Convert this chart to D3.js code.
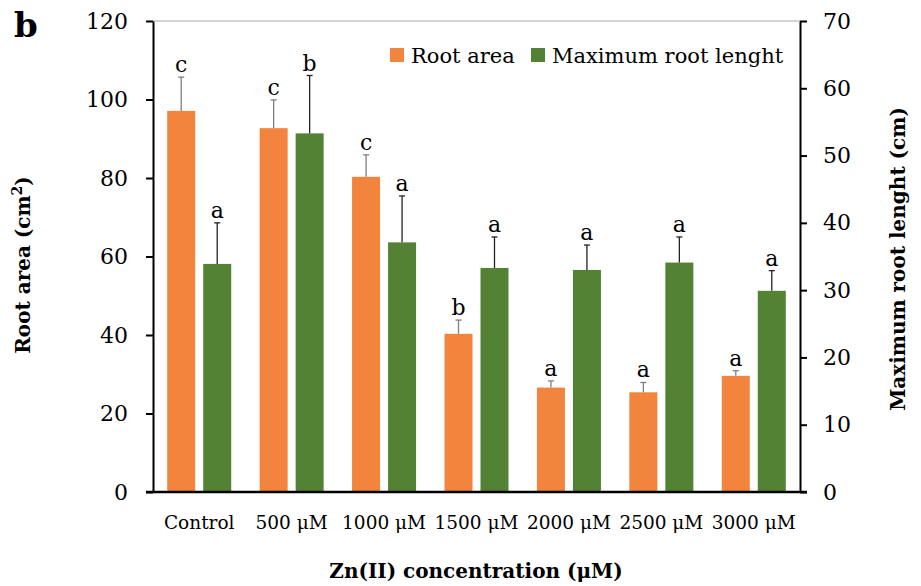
<!DOCTYPE html>
<html>
<head>
<meta charset="utf-8">
<script src="https://cdn.jsdelivr.net/npm/d3@7"></script>
<style>
  body { margin: 0; background: #fff; }
  svg text { font-family: "DejaVu Serif", serif; fill: #000; }
</style>
</head>
<body>
<svg id="chart" width="921" height="586"></svg>
<script>
// zn(II) treatments
var categories = ["Control", "500 μM", "1000 μM", "1500 μM", "2000 μM", "2500 μM", "3000 μM"];

// root area (cm2), left axis
var rootArea = [97.1, 92.7, 80.3, 40.3, 26.6, 25.4, 29.6];
var rootAreaErr = [8.6, 7.2, 5.6, 3.5, 1.7, 2.5, 1.3];
var rootAreaLetters = ["c", "c", "c", "b", "a", "a", "a"];

// max root lenght (cm), right axis
var rootLength = [33.9, 53.3, 37.1, 33.3, 33.0, 34.1, 29.9];
var rootLengthErr = [6.1, 8.6, 6.9, 4.6, 3.7, 3.8, 3.0];
var rootLengthLetters = ["a", "b", "a", "a", "a", "a", "a"];

var leftTicks = [0, 20, 40, 60, 80, 100, 120];
var rightTicks = [0, 10, 20, 30, 40, 50, 60, 70];

var seriesNames = ["Root area", "Maximum root lenght"];
var colors = ["#f2843d", "#548235"];
var errColors = ["#7f7f7f", "#222"];

// plot box (note: "top" is taken by window.top)
var plotL = 153, plotR = 800, plotT = 21, plotB = 492;

var svg = d3.select("#chart");

var x0 = d3.scaleBand()
    .domain(categories)
    .range([plotL, plotR])
    .padding(0);

var x1 = d3.scaleBand()
    .domain([0, 1])
    .range([x0.bandwidth() / 2 - 32, x0.bandwidth() / 2 + 32])
    .paddingInner(0.222);

var yL = d3.scaleLinear().domain([0, 120]).range([plotB, plotT]);
var yR = d3.scaleLinear().domain([0, 70]).range([plotB, plotT]);

// top border of plot area
svg.append("line")
    .attr("x1", plotL).attr("x2", plotR)
    .attr("y1", plotT).attr("y2", plotT)
    .attr("stroke", "#a6a6a6").attr("stroke-width", 1);

// rows for each series
var rows = categories.map(function (c, i) {
    return [
        { cat: c, s: 0, v: rootArea[i], e: rootAreaErr[i], t: rootAreaLetters[i], y: yL },
        { cat: c, s: 1, v: rootLength[i], e: rootLengthErr[i], t: rootLengthLetters[i], y: yR }
    ];
});

var group = svg.selectAll("g.grp")
    .data(rows)
    .enter().append("g")
    .attr("class", "grp")
    .attr("transform", function (d) { return "translate(" + x0(d[0].cat) + ",0)"; });

var bar = group.selectAll("g.bar")
    .data(function (d) { return d; })
    .enter().append("g")
    .attr("class", "bar");

bar.append("rect")
    .attr("x", function (d) { return x1(d.s); })
    .attr("width", x1.bandwidth())
    .attr("y", function (d) { return d.y(d.v); })
    .attr("height", function (d) { return plotB - d.y(d.v); })
    .attr("fill", function (d) { return colors[d.s]; });

// error bars (upper only)
bar.append("line")
    .attr("x1", function (d) { return x1(d.s) + x1.bandwidth() / 2; })
    .attr("x2", function (d) { return x1(d.s) + x1.bandwidth() / 2; })
    .attr("y1", function (d) { return d.y(d.v); })
    .attr("y2", function (d) { return d.y(d.v + d.e); })
    .attr("stroke", function (d) { return errColors[d.s]; })
    .attr("stroke-width", 1.3);

bar.append("line")
    .attr("x1", function (d) { return x1(d.s) + x1.bandwidth() / 2 - 3; })
    .attr("x2", function (d) { return x1(d.s) + x1.bandwidth() / 2 + 3; })
    .attr("y1", function (d) { return d.y(d.v + d.e); })
    .attr("y2", function (d) { return d.y(d.v + d.e); })
    .attr("stroke", function (d) { return errColors[d.s]; })
    .attr("stroke-width", 1.3);

bar.append("text")
    .attr("x", function (d) { return x1(d.s) + x1.bandwidth() / 2; })
    .attr("y", function (d) { return d.y(d.v + d.e) - 5; })
    .attr("text-anchor", "middle")
    .style("font-size", "22px")
    .text(function (d) { return d.t; });

// axes
var axL = svg.append("g")
    .attr("transform", "translate(" + plotL + ",0)")
    .call(d3.axisLeft(yL).tickValues(leftTicks).tickSize(7).tickSizeOuter(0).tickPadding(18));

var axR = svg.append("g")
    .attr("transform", "translate(" + plotR + ",0)")
    .call(d3.axisRight(yR).tickValues(rightTicks).tickSize(7).tickSizeOuter(0).tickPadding(16));

[axL, axR].forEach(function (ax) {
    ax.selectAll("path, line").attr("stroke", "#000").attr("stroke-width", 2);
    ax.selectAll("text").style("font-size", "22px").attr("font-family", null);
});

// category axis: just the baseline plus labels
svg.append("line")
    .attr("x1", plotL - 7).attr("x2", plotR + 7)
    .attr("y1", plotB).attr("y2", plotB)
    .attr("stroke", "#000").attr("stroke-width", 2.5);

svg.selectAll("text.cat")
    .data(categories)
    .enter().append("text")
    .attr("class", "cat")
    .attr("x", function (d) { return x0(d) + x0.bandwidth() / 2; })
    .attr("y", 529)
    .attr("text-anchor", "middle")
    .style("font-size", "18.5px")
    .text(function (d) { return d; });

// titles
svg.append("text")
    .attr("x", 476).attr("y", 578)
    .attr("text-anchor", "middle")
    .style("font-size", "20px").style("font-weight", "bold")
    .text("Zn(II) concentration (μM)");

var lt = svg.append("text")
    .attr("transform", "translate(30,265) rotate(-90)")
    .attr("text-anchor", "middle")
    .style("font-size", "20px").style("font-weight", "bold");
lt.append("tspan").text("Root area (cm");
lt.append("tspan").attr("dy", -8).style("font-size", "14px").text("2");
lt.append("tspan").attr("dy", 8).text(")");

svg.append("text")
    .attr("transform", "translate(905,259) rotate(-90)")
    .attr("text-anchor", "middle")
    .style("font-size", "20px").style("font-weight", "bold")
    .text("Maximum root lenght (cm)");

svg.append("text")
    .attr("x", 14).attr("y", 37)
    .style("font-size", "34px").style("font-weight", "bold")
    .text("b");

// legend
var legX = [390, 531];
var leg = svg.selectAll("g.leg")
    .data(seriesNames)
    .enter().append("g")
    .attr("class", "leg")
    .attr("transform", function (d, i) { return "translate(" + legX[i] + ",48)"; });

leg.append("rect")
    .attr("width", 14).attr("height", 14)
    .attr("fill", function (d, i) { return colors[i]; });

leg.append("text")
    .attr("x", 21).attr("y", 15)
    .style("font-size", "21px")
    .text(function (d) { return d; });
</script>
</body>
</html>
